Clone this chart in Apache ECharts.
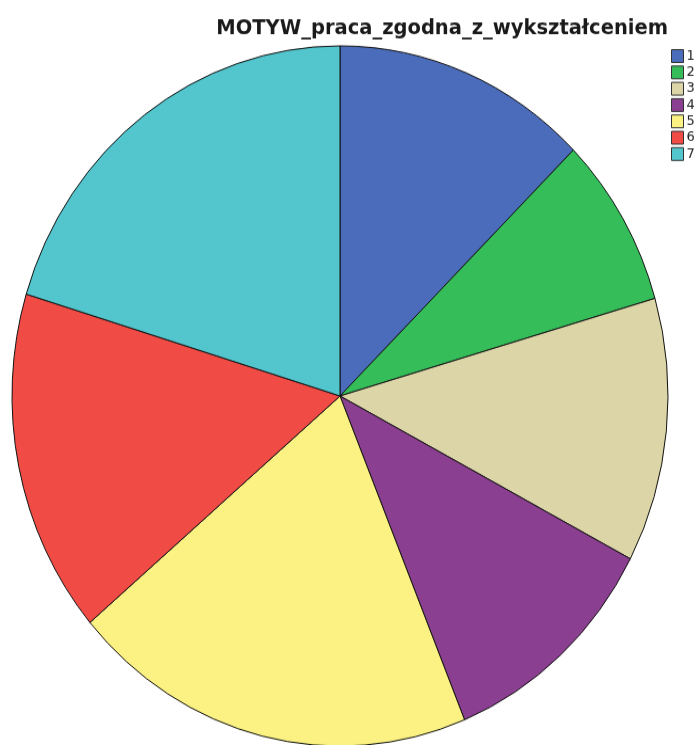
<!DOCTYPE html>
<html>
<head>
<meta charset="utf-8">
<script src="https://cdn.jsdelivr.net/npm/echarts@6/dist/echarts.min.js"></script>
<style>
  html, body { margin: 0; padding: 0; background: #ffffff; width: 700px; height: 745px; overflow: hidden; }
  #wrap { width: 700px; height: 745px; overflow: hidden; }
  /* the chart is drawn slightly stretched vertically */
  #chart { width: 700px; height: 698px; transform: scaleY(1.0673); transform-origin: 0 0; }
</style>
</head>
<body>
<div id="wrap"><div id="chart"></div></div>
<script>
const titleText = 'MOTYW_praca_zgodna_z_wykształceniem';
const categories = ['1', '2', '3', '4', '5', '6', '7'];
const percentages = [12.6, 7.9, 12.2, 11.1, 20.0, 15.9, 20.3];
const colors = ['#4a6cbb', '#34bd59', '#dcd5a8', '#8b3f90', '#fcf283', '#f14b46', '#53c5cc'];

const chart = echarts.init(document.getElementById('chart'), null, { renderer: 'canvas' });

chart.setOption({
  animation: false,
  color: colors,
  title: {
    text: titleText,
    right: 27,
    top: 12,
    textStyle: {
      fontFamily: 'DejaVu Sans',
      fontWeight: 'bold',
      fontSize: 19.5,
      color: '#1a1a1a'
    }
  },
  legend: {
    orient: 'vertical',
    left: 666,
    top: 41,
    itemWidth: 12,
    itemHeight: 12,
    itemGap: 2.3,
    icon: 'rect',
    selectedMode: false,
    itemStyle: { borderColor: '#333333', borderWidth: 1 },
    textStyle: { fontFamily: 'DejaVu Sans', fontSize: 13, lineHeight: 12, color: '#222222', padding: [0, 0, 0, -2] },
    data: categories
  },
  series: [{
    type: 'pie',
    center: [340, 371],
    radius: [0, 328],
    startAngle: 90,
    clockwise: true,
    label: { show: false },
    labelLine: { show: false },
    emphasis: { disabled: true },
    itemStyle: { borderColor: '#111111', borderWidth: 1 },
    data: categories.map((c, i) => ({ name: c, value: percentages[i] }))
  }]
});
</script>
</body>
</html>
